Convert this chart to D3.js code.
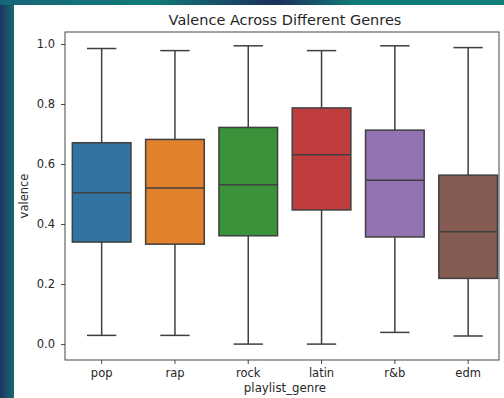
<!DOCTYPE html>
<html lang="en">
<head>
<meta charset="utf-8">
<title>Valence Across Different Genres</title>
<script src="https://cdn.jsdelivr.net/npm/d3@7"></script>
<style>
  body { margin: 0; background: #fff; }
  svg { display: block; font-family: "DejaVu Sans", sans-serif; }
</style>
</head>
<body>
<script>
// data
var genres = ["pop", "rap", "rock", "latin", "r&b", "edm"];
var whiskerLow = [0.029, 0.029, 0.0, 0.0, 0.039, 0.027];
var q1 = [0.340, 0.333, 0.361, 0.447, 0.357, 0.219];
var medians = [0.504, 0.520, 0.531, 0.631, 0.546, 0.374];
var q3 = [0.671, 0.682, 0.722, 0.787, 0.713, 0.563];
var whiskerHigh = [0.985, 0.978, 0.994, 0.978, 0.994, 0.988];
var colors = ["#3274a1", "#e1812c", "#3a923a", "#c03d3e", "#9372b2", "#845b53"];
var yTicks = [0.0, 0.2, 0.4, 0.6, 0.8, 1.0];

var W = 504, H = 398;
var plot = {left: 65, right: 499, top: 32, bottom: 360};

var svg = d3.select("body").append("svg")
  .attr("width", W).attr("height", H);

// dark frame from the screenshot
var defs = svg.append("defs");
var g1 = defs.append("linearGradient").attr("id", "bgH").attr("x1", "0").attr("x2", "1");
g1.append("stop").attr("offset", "0").attr("stop-color", "#17657a");
g1.append("stop").attr("offset", "0.3").attr("stop-color", "#117a78");
g1.append("stop").attr("offset", "0.55").attr("stop-color", "#1c2f5c");
g1.append("stop").attr("offset", "0.7").attr("stop-color", "#117a78");
g1.append("stop").attr("offset", "1").attr("stop-color", "#0f7f78");
var g2 = defs.append("linearGradient").attr("id", "bgV").attr("x1", "0").attr("x2", "1");
g2.append("stop").attr("offset", "0").attr("stop-color", "#1d3462");
g2.append("stop").attr("offset", "1").attr("stop-color", "#166a72");

svg.append("rect").attr("width", W).attr("height", H).attr("fill", "url(#bgH)");
svg.append("rect").attr("y", 5).attr("width", 14).attr("height", H - 5).attr("fill", "url(#bgV)");
svg.append("rect").attr("x", 14).attr("y", 5).attr("width", W - 14).attr("height", H - 5).attr("fill", "#fff");

var x = d3.scaleBand().domain(genres).range([plot.left, plot.left + 6 * 73.3]);
var y = d3.scaleLinear().domain([-0.053, 1.04]).range([plot.bottom, plot.top]);

var boxW = x.bandwidth() * 0.8;
var edge = "#3f3f3f";

var rows = genres.map(function(g, i) {
  return {g: g, lo: whiskerLow[i], q1: q1[i], med: medians[i], q3: q3[i], hi: whiskerHigh[i], c: colors[i]};
});

var boxes = svg.append("g").selectAll("g").data(rows).enter().append("g")
  .attr("transform", function(d) { return "translate(" + (x(d.g) + x.bandwidth() / 2) + ",0)"; });

// whiskers
boxes.append("line").attr("x1", 0).attr("x2", 0)
  .attr("y1", function(d) { return y(d.q3); }).attr("y2", function(d) { return y(d.hi); })
  .attr("stroke", edge).attr("stroke-width", 1.5);
boxes.append("line").attr("x1", 0).attr("x2", 0)
  .attr("y1", function(d) { return y(d.q1); }).attr("y2", function(d) { return y(d.lo); })
  .attr("stroke", edge).attr("stroke-width", 1.5);
// caps
boxes.append("line").attr("x1", -boxW / 4).attr("x2", boxW / 4)
  .attr("y1", function(d) { return y(d.hi); }).attr("y2", function(d) { return y(d.hi); })
  .attr("stroke", edge).attr("stroke-width", 1.5);
boxes.append("line").attr("x1", -boxW / 4).attr("x2", boxW / 4)
  .attr("y1", function(d) { return y(d.lo); }).attr("y2", function(d) { return y(d.lo); })
  .attr("stroke", edge).attr("stroke-width", 1.5);
// box
boxes.append("rect").attr("x", -boxW / 2).attr("width", boxW)
  .attr("y", function(d) { return y(d.q3); })
  .attr("height", function(d) { return y(d.q1) - y(d.q3); })
  .attr("fill", function(d) { return d.c; })
  .attr("stroke", edge).attr("stroke-width", 1.5);
// median
boxes.append("line").attr("x1", -boxW / 2).attr("x2", boxW / 2)
  .attr("y1", function(d) { return y(d.med); }).attr("y2", function(d) { return y(d.med); })
  .attr("stroke", edge).attr("stroke-width", 1.5);

// axes
var yAxis = svg.append("g").attr("transform", "translate(" + plot.left + ",0)")
  .call(d3.axisLeft(y).tickValues(yTicks).tickFormat(d3.format(".1f")).tickSize(4).tickPadding(6));
var xAxis = svg.append("g").attr("transform", "translate(0," + plot.bottom + ")")
  .call(d3.axisBottom(x).tickSize(4).tickPadding(5));
[yAxis, xAxis].forEach(function(a) {
  a.select(".domain").remove();
  a.selectAll("line").attr("stroke", "#333").attr("stroke-width", 0.9);
  a.selectAll("text").attr("fill", "#262626").style("font-size", "11.5px")
    .style("font-family", "DejaVu Sans, sans-serif");
});

// frame
svg.append("rect").attr("x", plot.left).attr("y", plot.top)
  .attr("width", plot.right - plot.left).attr("height", plot.bottom - plot.top)
  .attr("fill", "none").attr("stroke", "#333").attr("stroke-width", 0.9);

// labels
svg.append("text").attr("x", 285).attr("y", 25).attr("text-anchor", "middle")
  .style("font-size", "14.5px").attr("fill", "#262626").text("Valence Across Different Genres");
svg.append("text").attr("x", 285).attr("y", 392).attr("text-anchor", "middle")
  .style("font-size", "11.8px").attr("fill", "#262626").text("playlist_genre");
svg.append("text").attr("transform", "translate(28,196) rotate(-90)").attr("text-anchor", "middle")
  .style("font-size", "11.5px").attr("fill", "#262626").text("valence");
</script>
</body>
</html>
